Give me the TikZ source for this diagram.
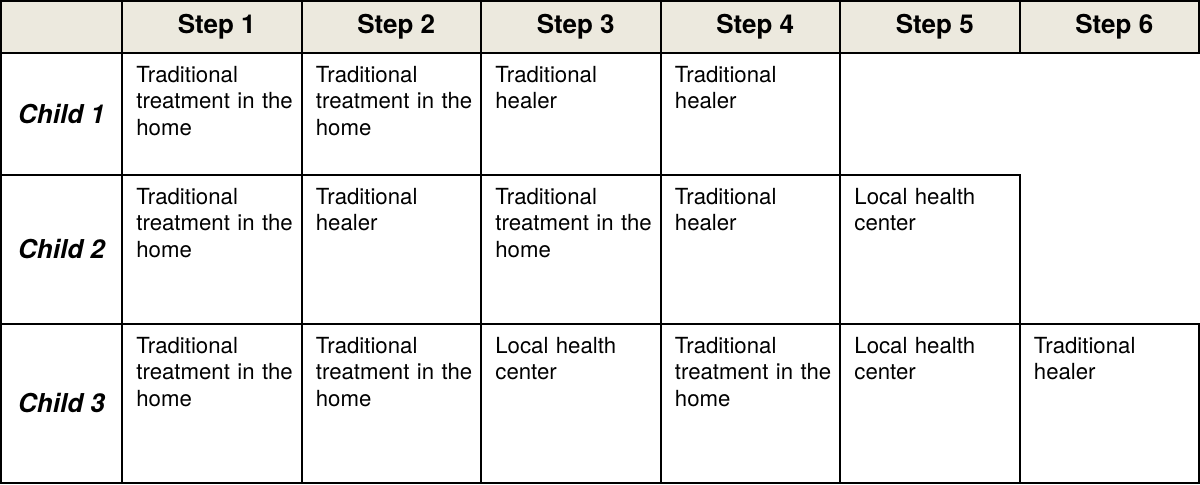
\documentclass[tikz,border=0pt]{standalone}
\usepackage{fontspec}
\setmainfont{TeX Gyre Heros}

\definecolor{headfill}{HTML}{ECE9DE}

\tikzset{
	cell/.style={draw, line width=1pt, anchor=north west, inner sep=0pt, outer sep=0pt},
	labcol/.style={cell, minimum width=60.5pt},
	stepcol/.style={cell, minimum width=89.75pt},
	headrow/.style={minimum height=26pt, fill=headfill, font=\fontsize{13}{15}\selectfont\bfseries, execute at begin node=\hspace*{5pt}},
	rowa/.style={minimum height=61pt},
	rowb/.style={minimum height=74.5pt},
	rowc/.style={minimum height=79.5pt},
	childlab/.style={font=\fontsize{13}{15}\selectfont\bfseries\itshape},
	entry/.style={anchor=base west, align=left, inner sep=0pt, text width=84pt, font=\fontsize{11.1}{13.4}\selectfont},
}

\begin{document}
\begin{tikzpicture}[x=0.5pt, y=-0.5pt]
	\useasboundingbox (0,0) rectangle (1200,484);

	% header
	\node[labcol, headrow] (h0) at (1,1) {};
	\node[stepcol, headrow] (h1) at (122,1) {Step 1};
	\node[stepcol, headrow] (h2) at (301.5,1) {Step 2};
	\node[stepcol, headrow] (h3) at (481,1) {Step 3};
	\node[stepcol, headrow] (h4) at (660.5,1) {Step 4};
	\node[stepcol, headrow] (h5) at (840,1) {Step 5};
	\node[stepcol, headrow] (h6) at (1019.5,1) {Step 6};

	% child 1
	\node[labcol, rowa, childlab] (c10) at (1,53) {Child 1};
	\node[stepcol, rowa] (c11) at (122,53) {};
	\node[stepcol, rowa] (c12) at (301.5,53) {};
	\node[stepcol, rowa] (c13) at (481,53) {};
	\node[stepcol, rowa] (c14) at (660.5,53) {};

	% child 2
	\node[labcol, rowb, childlab] (c20) at (1,175) {Child 2};
	\node[stepcol, rowb] (c21) at (122,175) {};
	\node[stepcol, rowb] (c22) at (301.5,175) {};
	\node[stepcol, rowb] (c23) at (481,175) {};
	\node[stepcol, rowb] (c24) at (660.5,175) {};
	\node[stepcol, rowb] (c25) at (840,175) {};

	% child 3
	\node[labcol, rowc, childlab] (c30) at (1,324) {Child 3};
	\node[stepcol, rowc] (c31) at (122,324) {};
	\node[stepcol, rowc] (c32) at (301.5,324) {};
	\node[stepcol, rowc] (c33) at (481,324) {};
	\node[stepcol, rowc] (c34) at (660.5,324) {};
	\node[stepcol, rowc] (c35) at (840,324) {};
	\node[stepcol, rowc] (c36) at (1019.5,324) {};

	% cell texts
	\node[entry] (t11) at ([xshift=7pt, yshift=-14.5pt]c11.north west) {Traditional\\treatment in the\\home};
	\node[entry] (t12) at ([xshift=7pt, yshift=-14.5pt]c12.north west) {Traditional\\treatment in the\\home};
	\node[entry] (t13) at ([xshift=7pt, yshift=-14.5pt]c13.north west) {Traditional\\healer};
	\node[entry] (t14) at ([xshift=7pt, yshift=-14.5pt]c14.north west) {Traditional\\healer};

	\node[entry] (t21) at ([xshift=7pt, yshift=-14.5pt]c21.north west) {Traditional\\treatment in the\\home};
	\node[entry] (t22) at ([xshift=7pt, yshift=-14.5pt]c22.north west) {Traditional\\healer};
	\node[entry] (t23) at ([xshift=7pt, yshift=-14.5pt]c23.north west) {Traditional\\treatment in the\\home};
	\node[entry] (t24) at ([xshift=7pt, yshift=-14.5pt]c24.north west) {Traditional\\healer};
	\node[entry] (t25) at ([xshift=7pt, yshift=-14.5pt]c25.north west) {Local health\\center};

	\node[entry] (t31) at ([xshift=7pt, yshift=-14.5pt]c31.north west) {Traditional\\treatment in the\\home};
	\node[entry] (t32) at ([xshift=7pt, yshift=-14.5pt]c32.north west) {Traditional\\treatment in the\\home};
	\node[entry] (t33) at ([xshift=7pt, yshift=-14.5pt]c33.north west) {Local health\\center};
	\node[entry] (t34) at ([xshift=7pt, yshift=-14.5pt]c34.north west) {Traditional\\treatment in the\\home};
	\node[entry] (t35) at ([xshift=7pt, yshift=-14.5pt]c35.north west) {Local health\\center};
	\node[entry] (t36) at ([xshift=7pt, yshift=-14.5pt]c36.north west) {Traditional\\healer};
\end{tikzpicture}
\end{document}
